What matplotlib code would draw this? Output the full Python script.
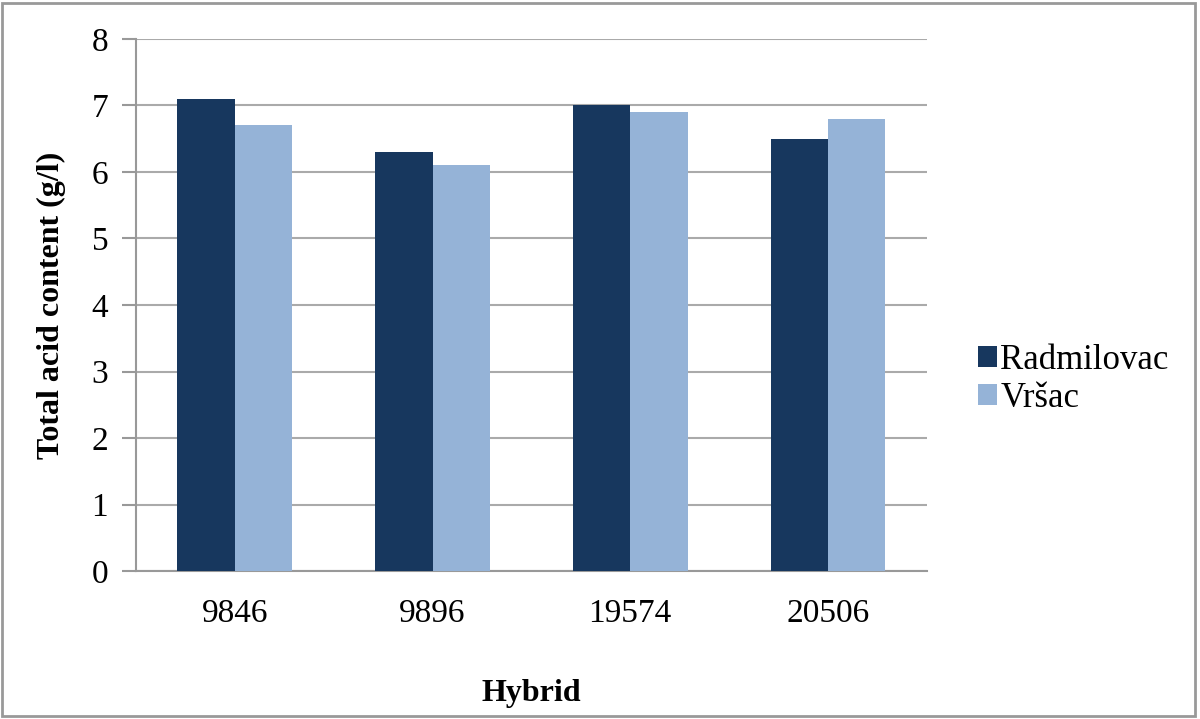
import numpy as np
from matplotlib import pyplot as plt
from matplotlib.patches import Rectangle

hybrids = ['9846', '9896', '19574', '20506']
radmilovac = [7.1, 6.3, 7.0, 6.5]
vrsac = [6.7, 6.1, 6.9, 6.8]
y_ticks = [0, 1, 2, 3, 4, 5, 6, 7, 8]

plt.rcParams['font.family'] = ['Liberation Serif', 'DejaVu Serif']

fig = plt.figure(figsize=(12, 7.19), dpi=100)
ax = fig.add_axes([0.1133, 0.2058, 0.659, 0.74])

x = np.arange(len(hybrids))
w = 0.29
ax.bar(x - w / 2, radmilovac, w, color='#17375E', label='Radmilovac', zorder=3)
ax.bar(x + w / 2, vrsac, w, color='#95B3D7', label='Vršac', zorder=3)

ax.set_xlim(-0.5, len(hybrids) - 0.5)
ax.set_ylim(0, 8)
ax.set_yticks(y_ticks)
ax.set_xticks(x)
ax.set_xticklabels(hybrids)
ax.tick_params(axis='x', length=0, labelsize=24, pad=20)
ax.tick_params(axis='y', length=10, color='#999999', width=1.5, labelsize=24, pad=10)
ax.grid(axis='y', color='#aaaaaa', linewidth=1.5, zorder=0)

for s in ['top', 'right']:
    ax.spines[s].set_visible(False)
ax.spines['left'].set_color('#999999')
ax.spines['bottom'].set_color('#999999')
ax.spines['left'].set_linewidth(1.5)
ax.spines['bottom'].set_linewidth(1.5)

ax.set_xlabel('Hybrid', fontsize=23, fontweight='bold', labelpad=36)
ax.set_ylabel('Total acid content (g/l)', fontsize=23, fontweight='bold', labelpad=18)

ax.legend(loc='center left', bbox_to_anchor=(1.047, 0.36), frameon=False,
          borderaxespad=0, fontsize=25, handlelength=0.55, handleheight=0.55,
          handletextpad=0.1, labelspacing=0.15)

fig.patches.append(Rectangle((0.002, 0.004), 0.994, 0.992, transform=fig.transFigure,
                             fill=False, edgecolor='#999999', linewidth=2))

fig.savefig('out.png', dpi=100)
